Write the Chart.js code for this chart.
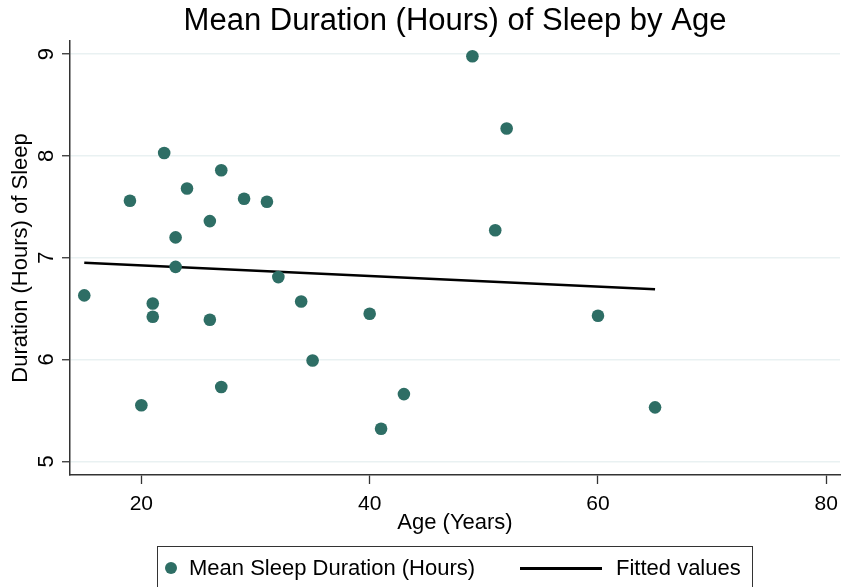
<!DOCTYPE html>
<html>
<head>
<meta charset="utf-8">
<script src="https://cdn.jsdelivr.net/npm/chart.js@4"></script>
<style>
    body { margin: 0; background: #fff; overflow: hidden; }
    #wrap { position: relative; width: 841px; height: 587px; }
    #legend {
        position: absolute; left: 157px; top: 546px; width: 596px; height: 60px;
        border: 1.3px solid #333; box-sizing: border-box;
        font-family: 'Liberation Sans', Arial, sans-serif; font-size: 22px; color: #000;
    }
    #legend .dot { position: absolute; left: 7px; top: 15px; width: 12px; height: 12px; border-radius: 50%; background: #2e6e65; }
    #legend .line { position: absolute; left: 362px; top: 20px; width: 82px; height: 3px; background: #000; }
    #legend span { position: absolute; top: 8px; white-space: nowrap; }
</style>
</head>
<body>
<div id="wrap">
    <canvas id="chart" width="841" height="587"></canvas>
    <div id="legend">
        <div class="dot"></div><span style="left:31px">Mean Sleep Duration (Hours)</span>
        <div class="line"></div><span style="left:458px">Fitted values</span>
    </div>
</div>
<script>
// Data
const ages = [15, 19, 20, 21, 21, 22, 23, 23, 24, 26, 26, 27, 27, 29, 31, 32, 34, 35, 40, 41, 43, 49, 51, 52, 60, 65];
const sleepHours = [6.63, 7.56, 5.55, 6.55, 6.42, 8.03, 7.20, 6.91, 7.68, 7.36, 6.39, 7.86, 5.73, 7.58, 7.55, 6.81, 6.57, 5.99, 6.45, 5.32, 5.66, 8.98, 7.27, 8.27, 6.43, 5.53];

// Fitted values (end points of the line)
const fitAges = [15, 65];
const fitHours = [6.95, 6.69];

const xTicks = [20, 40, 60, 80];
const yTicks = [5, 6, 7, 8, 9];

const FONT = "'Liberation Sans', Arial, sans-serif";
Chart.defaults.font.family = FONT;
Chart.defaults.color = '#000';

const scatterPoints = ages.map((a, i) => ({ x: a, y: sleepHours[i] }));
const fitPoints = fitAges.map((a, i) => ({ x: a, y: fitHours[i] }));

const ctx = document.getElementById('chart').getContext('2d');
new Chart(ctx, {
    type: 'scatter',
    data: {
        datasets: [
            {
                label: 'Mean Sleep Duration (Hours)',
                data: scatterPoints,
                backgroundColor: '#2e6e65',
                borderWidth: 0,
                pointRadius: 6.3
            },
            {
                type: 'line',
                label: 'Fitted values',
                data: fitPoints,
                borderColor: '#000',
                borderWidth: 2.5,
                pointRadius: 0,
                fill: false
            }
        ]
    },
    options: {
        responsive: false,
        animation: false,
        layout: { autoPadding: false, padding: { top: 0, left: 0, right: 1, bottom: 50.8 } },
        plugins: {
            legend: { display: false },
            tooltip: { enabled: false },
            title: {
                display: true,
                fullSize: false, // centre over the plot area like the original
                text: 'Mean Duration (Hours) of Sleep by Age',
                color: '#000',
                font: { size: 31, weight: 'normal', lineHeight: 1.2 },
                padding: { top: 3, bottom: 0.8 }
            }
        },
        scales: {
            x: {
                type: 'linear',
                min: 13.75,
                max: 81.2,
                afterBuildTicks: s => { s.ticks = xTicks.map(v => ({ value: v })); },
                afterFit: s => { s.height = 61.2; s.paddingLeft = 0; s.paddingRight = 0; },
                grid: { drawOnChartArea: false, tickLength: 9, tickColor: '#333', tickWidth: 1.3 },
                border: { color: '#333', width: 1.5 },
                ticks: { font: { size: 21 }, padding: 8, color: '#000', maxRotation: 0 },
                title: {
                    display: true, text: 'Age (Years)', color: '#000',
                    font: { size: 22 }, padding: { top: 0, bottom: 0 }
                }
            },
            y: {
                type: 'linear',
                min: 4.865,
                max: 9.13,
                afterBuildTicks: s => { s.ticks = yTicks.map(v => ({ value: v })); },
                afterFit: s => { s.width = 70; s.paddingTop = 0; s.paddingBottom = 0; },
                grid: { color: '#e9f1f2', lineWidth: 1.5, tickLength: 8, tickColor: '#333', tickWidth: 1.3 },
                border: { color: '#333', width: 1.5 },
                ticks: { font: { size: 22 }, padding: 9, color: '#000', minRotation: 90, maxRotation: 90, crossAlign: 'center' },
                title: {
                    display: true, text: 'Duration (Hours) of Sleep', color: '#000',
                    font: { size: 22 }, padding: { top: 7.6, bottom: 0 }
                }
            }
        }
    }
});
</script>
</body>
</html>
